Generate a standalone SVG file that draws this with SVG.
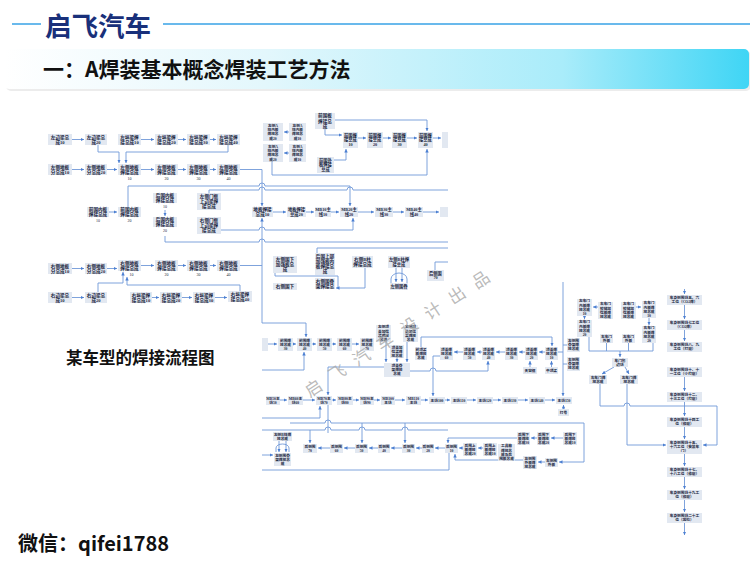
<svg xmlns="http://www.w3.org/2000/svg" width="750" height="563" viewBox="0 0 750 563">
<defs>
<linearGradient id="bg" x1="0" y1="0" x2="1" y2="0">
<stop offset="0" stop-color="#ffffff"/><stop offset="0.35" stop-color="#e3f7fc"/><stop offset="0.75" stop-color="#a9ecfa"/><stop offset="1" stop-color="#3fd5f5"/>
</linearGradient>
<marker id="ar" viewBox="0 0 4 4" refX="4" refY="2" markerWidth="3.5" markerHeight="3.5" markerUnits="userSpaceOnUse" orient="auto"><path d="M0,0 L4,2 L0,4 z" fill="#4b7fd2"/></marker>
<clipPath id="clip1"><path d="M0,100 H448 V290 H258 V312 H0 Z"/></clipPath>
</defs>
<style>
.b{fill:#e2e8f1}
.t{font-family:"Liberation Serif","Noto Sans CJK SC",serif;font-weight:bold;fill:#1b2640;text-anchor:middle;font-size:4.6px}
.u{font-size:4.25px}
.s{font-size:3.7px}
.n{font-family:"Liberation Serif",serif;font-size:4px;fill:#1b2640;text-anchor:middle}
.c{fill:none;stroke:#7099d8;stroke-width:0.9}
.a{marker-end:url(#ar)}
.h{font-family:"Noto Sans CJK SC","Noto Sans",sans-serif;font-weight:bold}
</style>
<rect width="750" height="563" fill="#ffffff"/>

<!-- header -->
<g id="header">
<line x1="12" y1="24" x2="41" y2="24" stroke="#69b9ec" stroke-width="2"/>
<line x1="163" y1="24" x2="750" y2="24" stroke="#69b9ec" stroke-width="2"/>
<text class="h" x="45" y="35.5" font-size="26.5" fill="#19307a">启飞汽车</text>
<rect x="6" y="51" width="745" height="40" rx="5" fill="#ececec"/>
<rect x="4" y="49" width="745" height="40" rx="5" fill="url(#bg)"/>
<text class="h" x="43" y="76.5" font-size="21" fill="#111111">一：A焊装基本概念焊装工艺方法</text>
</g>

<!-- image 1 -->
<g clip-path="url(#clip1)">
<g id="connectors1">
<path class="c a" d="M72,139.5 H84"/>
<path class="c a" d="M141,139.5 H154"/>
<path class="c a" d="M178,139.5 H186"/>
<path class="c a" d="M210,139.5 H216"/>
<path class="c a" d="M72,169.5 H84"/>
<path class="c a" d="M107,169.5 H117"/>
<path class="c a" d="M141,169.5 H154"/>
<path class="c a" d="M178,169.5 H186"/>
<path class="c a" d="M210,169.5 H216"/>
<path class="c a" d="M98,145 V152 H119 V163"/>
<path class="c a" d="M228,145 V152 H126 V163"/>
<path class="c a" d="M240,169.5 H262 V206"/>
<path class="c a" d="M262,290 V218"/>
<path class="c a" d="M109,212 H117"/>
<path class="c a" d="M165,210 V216"/>
<path class="c a" d="M128,207 V186 H259 a3,3 0 0 1 6,0 H350 V206"/>
<path class="c" d="M209,193 V190 H259 a3,3 0 0 1 6,0 H347 a3,3 0 0 1 6,0 H448"/>
<path class="c a" d="M221,230 H259 a3,3 0 0 1 6,0 H353 V218"/>
<path class="c" d="M165,236 V242 H259 a3,3 0 0 1 6,0 H448"/>
<path class="c a" d="M273,212 H286"/>
<path class="c a" d="M306,212 H314"/>
<path class="c a" d="M331,212 H339"/>
<path class="c a" d="M358,212 H374"/>
<path class="c a" d="M393,212 H404"/>
<path class="c a" d="M423,212 H439"/>
<path class="c a" d="M289,132 H284"/>
<path class="c a" d="M289,153 H284"/>
<path class="c a" d="M272,162 V175 H427 V149"/>
<path class="c a" d="M335,120 H427 V131"/>
<path class="c a" d="M325,129 V135 H342"/>
<path class="c a" d="M334,160 H346 V149"/>
<path class="c a" d="M358,138 H366"/>
<path class="c a" d="M383,138 H391"/>
<path class="c a" d="M407,138 H417"/>
<path class="c a" d="M433,138 H441"/>
<path class="c" d="M317,253 V248 H448"/>
<path class="c" d="M275,273 V276 H338 V288"/>
<path class="c a" d="M365,268 V288 H336"/>
<path class="c a" d="M396,268 V282"/>
<path class="c a" d="M402,268 V282"/>
<path class="c" d="M391,283 V279 a8,6 0 0 1 16,0 V283"/>
<path class="c" d="M435,270 V262 H448"/>
<path class="c a" d="M72,268.5 H84"/>
<path class="c a" d="M107,268.5 H117"/>
<path class="c a" d="M141,265.5 H154"/>
<path class="c a" d="M178,265.5 H186"/>
<path class="c a" d="M210,265.5 H216"/>
<path class="c" d="M240,265.5 H262"/>
<path class="c a" d="M72,297.5 H84"/>
<path class="c a" d="M152,297.5 H159"/>
<path class="c a" d="M182,297.5 H192"/>
<path class="c a" d="M215,297.5 H227"/>
<path class="c a" d="M98,292 V283 H123 V272"/>
<path class="c a" d="M240,291 V285 H127 V277"/>
</g>

<g id="n1"><rect class="b" x="48" y="134" width="24" height="11"/><text class="t" x="60" y="138.5">左边梁总<tspan x="60" dy="5.2">成10</tspan></text></g>
<g id="n2"><rect class="b" x="85" y="134" width="22" height="11"/><text class="t" x="96" y="138.5">左边梁总<tspan x="96" dy="5.2">成20</tspan></text></g>
<g id="n3"><rect class="b" x="118" y="134" width="23" height="11"/><text class="t" x="129.5" y="138.5">左纵梁焊<tspan x="129.5" dy="5.2">接总成10</tspan></text></g>
<g id="n4"><rect class="b" x="155" y="134" width="23" height="11"/><text class="t" x="166.5" y="138.5">左纵梁焊<tspan x="166.5" dy="5.2">接总成20</tspan></text></g>
<g id="n5"><rect class="b" x="187" y="134" width="23" height="11"/><text class="t" x="198.5" y="138.5">左纵梁焊<tspan x="198.5" dy="5.2">接总成30</tspan></text></g>
<g id="n6"><rect class="b" x="217" y="134" width="23" height="11"/><text class="t" x="228.5" y="138.5">左纵梁焊<tspan x="228.5" dy="5.2">接总成40</tspan></text></g>

<g id="n7"><rect class="b" x="48" y="164" width="24" height="11"/><text class="t" x="60" y="168.5">左侧地板<tspan x="60" dy="5.2">分总成10</tspan></text></g>
<g id="n8"><rect class="b" x="85" y="164" width="22" height="11"/><text class="t" x="96" y="168.5">左侧地板<tspan x="96" dy="5.2">分总成20</tspan></text></g>
<g id="n9"><rect class="b" x="118" y="164" width="23" height="11"/><text class="t" x="129.5" y="168.5">左侧地板<tspan x="129.5" dy="5.2">焊接总成</tspan></text><text class="n" x="129.5" y="180">10</text></g>
<g id="n10"><rect class="b" x="155" y="164" width="23" height="11"/><text class="t" x="166.5" y="168.5">左侧地板<tspan x="166.5" dy="5.2">焊接总成</tspan></text><text class="n" x="166.5" y="180">20</text></g>
<g id="n11"><rect class="b" x="187" y="164" width="23" height="11"/><text class="t" x="198.5" y="168.5">左侧地板<tspan x="198.5" dy="5.2">焊接总成</tspan></text><text class="n" x="198.5" y="180">30</text></g>
<g id="n12"><rect class="b" x="217" y="164" width="23" height="11"/><text class="t" x="228.5" y="168.5">左侧地板<tspan x="228.5" dy="5.2">焊接总成</tspan></text><text class="n" x="228.5" y="180">40</text></g>

<g id="n13"><rect class="b" x="153" y="193" width="24" height="10"/><text class="t" x="165" y="197">后围内板<tspan x="165" dy="5.2">焊接总成</tspan></text><text class="n" x="165" y="208">10</text></g>
<g id="n14"><rect class="b" x="153" y="217" width="24" height="10"/><text class="t" x="165" y="221">后围内板<tspan x="165" dy="5.2">焊接总成</tspan></text><text class="n" x="165" y="231.5">20</text></g>
<g id="n15"><rect class="b" x="87" y="207" width="22" height="10"/><text class="t" x="98" y="211">前围内板<tspan x="98" dy="5.2">焊接总成</tspan></text><text class="n" x="98" y="221.5">10</text></g>
<g id="n16"><rect class="b" x="118" y="207" width="23" height="10"/><text class="t" x="129.5" y="211">前围内板<tspan x="129.5" dy="5.2">焊接总成</tspan></text><text class="n" x="129.5" y="221.5">20</text></g>
<g id="n17"><rect class="b" x="197" y="193" width="24" height="17"/><text class="t" x="209" y="197.9">左侧门框<tspan x="209" dy="5.2">上边梁焊</tspan><tspan x="209" dy="5.2">接总成</tspan></text></g>
<g id="n18"><rect class="b" x="197" y="217" width="24" height="17"/><text class="t" x="209" y="221.9">右侧门框<tspan x="209" dy="5.2">上边梁焊</tspan><tspan x="209" dy="5.2">接总成</tspan></text></g>

<g id="n19"><rect class="b" x="252" y="207" width="21" height="10"/><text class="t" x="262.5" y="211">地板焊接<tspan x="262.5" dy="5.2">总成10</tspan></text></g>
<g id="n20"><rect class="b" x="287" y="207" width="19" height="10"/><text class="t u" x="296.5" y="211">地板焊接<tspan x="296.5" dy="4.8">总成20</tspan></text></g>
<g id="n21"><rect class="b" x="315" y="207" width="16" height="10"/><text class="t u" x="323" y="211">MB10主<tspan x="323" dy="4.8">线10</tspan></text></g>
<g id="n22"><rect class="b" x="340" y="207" width="18" height="10"/><text class="t u" x="349" y="211">MB20主<tspan x="349" dy="4.8">线20</tspan></text></g>
<g id="n23"><rect class="b" x="375" y="207" width="18" height="10"/><text class="t u" x="384" y="211">MB30主<tspan x="384" dy="4.8">线30</tspan></text></g>
<g id="n24"><rect class="b" x="405" y="207" width="18" height="10"/><text class="t u" x="414" y="211">MB40主<tspan x="414" dy="4.8">线40</tspan></text></g>
<g id="n25"><rect class="b" x="440" y="207" width="10" height="10"/></g>

<g id="n26"><rect class="b" x="263" y="123" width="20" height="18"/><text class="t s" x="273" y="126.9">左侧A<tspan x="273" dy="4.2">柱内板</tspan><tspan x="273" dy="4.2">焊接总</tspan><tspan x="273" dy="4.2">成20</tspan></text></g>
<g id="n27"><rect class="b" x="263" y="144" width="20" height="18"/><text class="t s" x="273" y="147.9">右侧A<tspan x="273" dy="4.2">柱内板</tspan><tspan x="273" dy="4.2">焊接总</tspan><tspan x="273" dy="4.2">成20</tspan></text></g>
<g id="n28"><rect class="b" x="289" y="123" width="17" height="18"/><text class="t s" x="297.5" y="126.9">左侧A<tspan x="297.5" dy="4.2">柱内板</tspan><tspan x="297.5" dy="4.2">焊接总</tspan><tspan x="297.5" dy="4.2">成10</tspan></text></g>
<g id="n29"><rect class="b" x="289" y="144" width="17" height="18"/><text class="t s" x="297.5" y="147.9">右侧A<tspan x="297.5" dy="4.2">柱内板</tspan><tspan x="297.5" dy="4.2">焊接总</tspan><tspan x="297.5" dy="4.2">成10</tspan></text></g>
<g id="n30"><rect class="b" x="315" y="113" width="20" height="16"/><text class="t" x="325" y="117.4">前围板<tspan x="325" dy="5.2">焊接总</tspan><tspan x="325" dy="5.2">成</tspan></text></g>
<g id="n31"><rect class="b" x="317" y="157" width="17" height="16"/><text class="t u" x="325.5" y="161.6">前围外<tspan x="325.5" dy="4.8">板焊接</tspan><tspan x="325.5" dy="4.8">总成</tspan></text></g>
<g id="n32"><rect class="b" x="343" y="132" width="15" height="16"/><text class="t u" x="350.5" y="136.6">前围焊<tspan x="350.5" dy="4.8">接总成</tspan><tspan x="350.5" dy="4.8">10</tspan></text></g>
<g id="n33"><rect class="b" x="367" y="132" width="16" height="16"/><text class="t u" x="375" y="136.6">前围焊<tspan x="375" dy="4.8">接总成</tspan><tspan x="375" dy="4.8">20</tspan></text></g>
<g id="n34"><rect class="b" x="392" y="132" width="15" height="16"/><text class="t u" x="399.5" y="136.6">前围焊<tspan x="399.5" dy="4.8">接总成</tspan><tspan x="399.5" dy="4.8">30</tspan></text></g>
<g id="n35"><rect class="b" x="418" y="132" width="15" height="16"/><text class="t u" x="425.5" y="136.6">前围焊<tspan x="425.5" dy="4.8">接总成</tspan><tspan x="425.5" dy="4.8">40</tspan></text></g>
<g id="n36"><rect class="b" x="442" y="132" width="8" height="16"/></g>

<g id="n37"><rect class="b" x="273" y="256" width="24" height="17"/><text class="t" x="285" y="260.9">左侧围下<tspan x="285" dy="5.2">加强板总</tspan><tspan x="285" dy="5.2">成</tspan></text></g>
<g id="n38"><rect class="b" x="273" y="283" width="24" height="10"/><text class="t" x="285" y="288">右侧围下</text></g>
<g id="n39"><rect class="b" x="315" y="253" width="20" height="22"/><text class="t" x="325" y="257.8">后围上部<tspan x="325" dy="5.2">加强板内</tspan><tspan x="325" dy="5.2">板焊接总</tspan><tspan x="325" dy="5.2">成</tspan></text></g>
<g id="n40"><rect class="b" x="315" y="278" width="20" height="11"/><text class="t" x="325" y="282.5">右侧围骨<tspan x="325" dy="5.2">架焊接总</tspan></text></g>
<g id="n41"><rect class="b" x="352" y="256" width="21" height="12"/><text class="t" x="362.5" y="261">右侧B柱<tspan x="362.5" dy="5.2">焊接总成</tspan></text></g>
<g id="n42"><rect class="b" x="388" y="256" width="22" height="12"/><text class="t u" x="399" y="261">左侧B柱焊<tspan x="399" dy="4.8">接总成</tspan></text></g>
<g id="n43"><rect class="b" x="390" y="283" width="18" height="10"/><text class="t u" x="399" y="288">左侧围骨</text></g>
<g id="n44"><rect class="b" x="427" y="270" width="17" height="11"/><text class="t u" x="435.5" y="274.5">后侧围<tspan x="435.5" dy="4.8">70</tspan></text></g>

<g id="n45"><rect class="b" x="48" y="263" width="24" height="11"/><text class="t" x="60" y="267.5">右侧地板<tspan x="60" dy="5.2">分总成10</tspan></text></g>
<g id="n46"><rect class="b" x="85" y="263" width="22" height="11"/><text class="t" x="96" y="267.5">右侧地板<tspan x="96" dy="5.2">分总成20</tspan></text></g>
<g id="n47"><rect class="b" x="118" y="260" width="23" height="11"/><text class="t" x="129.5" y="264.5">右侧地板<tspan x="129.5" dy="5.2">焊接总成</tspan></text><text class="n" x="131.5" y="275.5">10</text></g>
<g id="n48"><rect class="b" x="155" y="260" width="23" height="11"/><text class="t" x="166.5" y="264.5">右侧地板<tspan x="166.5" dy="5.2">焊接总成</tspan></text><text class="n" x="166.5" y="275.5">20</text></g>
<g id="n49"><rect class="b" x="187" y="260" width="23" height="11"/><text class="t" x="198.5" y="264.5">右侧地板<tspan x="198.5" dy="5.2">焊接总成</tspan></text><text class="n" x="198.5" y="275.5">30</text></g>
<g id="n50"><rect class="b" x="217" y="260" width="23" height="11"/><text class="t" x="228.5" y="264.5">右侧地板<tspan x="228.5" dy="5.2">焊接总成</tspan></text><text class="n" x="228.5" y="275.5">40</text></g>
<g id="n51"><rect class="b" x="48" y="292" width="24" height="11"/><text class="t" x="60" y="296.5">右边梁总<tspan x="60" dy="5.2">成10</tspan></text></g>
<g id="n52"><rect class="b" x="85" y="292" width="22" height="11"/><text class="t" x="96" y="296.5">右边梁总<tspan x="96" dy="5.2">成20</tspan></text></g>
<g id="n53"><rect class="b" x="130" y="292" width="22" height="11"/><text class="t" x="141" y="296.5">右纵梁焊<tspan x="141" dy="5.2">接总成10</tspan></text></g>
<g id="n54"><rect class="b" x="160" y="292" width="22" height="11"/><text class="t" x="171" y="296.5">右纵梁焊<tspan x="171" dy="5.2">接总成20</tspan></text></g>
<g id="n55"><rect class="b" x="193" y="292" width="22" height="11"/><text class="t" x="204" y="296.5">右纵梁焊<tspan x="204" dy="5.2">接总成30</tspan></text></g>
<g id="n56"><rect class="b" x="228" y="291" width="24" height="11"/><text class="t" x="240" y="295.5">右纵梁焊<tspan x="240" dy="5.2">接总成40</tspan></text></g>
</g>

<!-- image 2 -->
<g id="connectors2">
<path class="c a" d="M262,290 V323 H306 V337"/>
<path class="c a" d="M262,370 H304 V352"/>
<path class="c a" d="M268,344 H277"/>
<path class="c a" d="M293,344 H296"/>
<path class="c a" d="M312,344 H316"/>
<path class="c a" d="M332,344 H336"/>
<path class="c a" d="M352,344 H359"/>
<path class="c a" d="M386,342 V362"/>
<path class="c a" d="M407,342 V362"/>
<path class="c a" d="M397,358 V362"/>
<path class="c a" d="M384,367 H328 V395"/>
<path class="c a" d="M410,371 H430 a3,3 0 0 1 6,0 H488 V361"/>
<path class="c a" d="M545,352 H539"/>
<path class="c a" d="M525,352 H519"/>
<path class="c a" d="M505,352 H496"/>
<path class="c a" d="M482,352 H477"/>
<path class="c a" d="M463,352 H454"/>
<path class="c a" d="M530,367 V361"/>
<path class="c a" d="M551.5,367 V361"/>
<path class="c a" d="M421,347 V337 H552 V346"/>
<path class="c a" d="M440,356 H433 V396"/>
<path class="c" d="M558,352 H563"/>
<path class="c" d="M567,345 H563"/>
<path class="c" d="M567,364 H563"/>
<path class="c a" d="M563,282 V396"/>
<path class="c a" d="M280,400 H287"/>
<path class="c a" d="M303,400 H315"/>
<path class="c a" d="M332,400 H336"/>
<path class="c a" d="M353,400 H359"/>
<path class="c a" d="M374,400 H380"/>
<path class="c a" d="M395,400 H405"/>
<path class="c a" d="M421,400 H428"/>
<path class="c a" d="M445,400 H450"/>
<path class="c a" d="M467,400 H476"/>
<path class="c a" d="M493,400 H501"/>
<path class="c a" d="M518,400 H528"/>
<path class="c a" d="M545,400 H555"/>
<path class="c a" d="M563.5,409 V405"/>
<path class="c a" d="M262,418 H320 V406"/>
<path class="c" d="M328,405 V433"/>
<path class="c a" d="M290,423 H325 a3,3 0 0 1 6,0 H584 V462 H559"/>
<path class="c" d="M262,430 H325 a3,3 0 0 1 6,0 H359 a3,3 0 0 1 6,0 H402 a3,3 0 0 1 6,0 H448"/>
<path class="c a" d="M310,430 V443"/>
<path class="c a" d="M362,423 V443"/>
<path class="c a" d="M405,423 V443"/>
<path class="c a" d="M330,448 H318"/>
<path class="c a" d="M355,448 H344"/>
<path class="c a" d="M378,448 H369"/>
<path class="c a" d="M402,448 H391"/>
<path class="c a" d="M422,448 H416"/>
<path class="c a" d="M445,448 H435"/>
<path class="c a" d="M483,448 H478"/>
<path class="c a" d="M463,448 H459"/>
<path class="c a" d="M563,438 H551"/>
<path class="c a" d="M537,438 H531"/>
<path class="c a" d="M517,438 H448 V443"/>
<path class="c a" d="M545,462 H538"/>
<path class="c a" d="M523,460 H455 V454"/>
<path class="c" d="M449,453 V470 H262"/>
<path class="c a" d="M279,441 V452"/>
<path class="c a" d="M286,441 V452"/>
<path class="c" d="M276,452 V448 a6.5,4 0 0 1 13,0 V452"/>
<path class="c a" d="M262,455 H273"/>
<path class="c a" d="M684.5,289 V294"/>
<path class="c a" d="M684.5,305 V319"/>
<path class="c a" d="M684.5,330 V341"/>
<path class="c a" d="M684.5,377 V391"/>
<path class="c a" d="M684.5,402 V416"/>
<path class="c a" d="M684.5,427 V439"/>
<path class="c a" d="M684.5,454 V466"/>
<path class="c a" d="M684.5,477 V489"/>
<path class="c a" d="M684.5,500 V512"/>
<path class="c a" d="M684.5,523 V535"/>
<path class="c a" d="M584.5,316 V319"/>
<path class="c a" d="M598,307 H593"/>
<path class="c a" d="M636,307 H641"/>
<path class="c a" d="M649,318 V325"/>
<path class="c" d="M589,337 V351 H653 V343"/>
<path class="c" d="M606.5,343 V351"/>
<path class="c" d="M628.5,343 V351"/>
<path class="c a" d="M620,351 V357"/>
<path class="c a" d="M614,367 L602,374"/>
<path class="c a" d="M625,367 L629,374"/>
<path class="c a" d="M600,384 V406 H624 a3,3 0 0 1 6,0 H717 V445 H703"/>
<path class="c a" d="M627,384 V445 H666"/>
</g>

<g id="a0"><rect class="b" x="262" y="338" width="6" height="13"/></g>
<g id="a1"><rect class="b" x="278" y="338" width="15" height="13"/><text class="t s" x="285.5" y="341.5">前围焊<tspan x="285.5" dy="4.2">接总成</tspan><tspan x="285.5" dy="4.2">30</tspan></text></g>
<g id="a2"><rect class="b" x="297" y="338" width="15" height="13"/><text class="t s" x="304.5" y="341.5">前围焊<tspan x="304.5" dy="4.2">接总成</tspan><tspan x="304.5" dy="4.2">40</tspan></text></g>
<g id="a3"><rect class="b" x="317" y="338" width="15" height="13"/><text class="t s" x="324.5" y="341.5">前围焊<tspan x="324.5" dy="4.2">接总成</tspan><tspan x="324.5" dy="4.2">50</tspan></text></g>
<g id="a4"><rect class="b" x="337" y="338" width="15" height="13"/><text class="t s" x="344.5" y="341.5">前围焊<tspan x="344.5" dy="4.2">接总成</tspan><tspan x="344.5" dy="4.2">60</tspan></text></g>
<g id="a5"><rect class="b" x="360" y="338" width="14" height="13"/><text class="t s" x="367" y="341.5">前围焊<tspan x="367" dy="4.2">接总成</tspan><tspan x="367" dy="4.2">70</tspan></text></g>
<g id="a6"><rect class="b" x="376" y="325" width="15" height="17"/><text class="t s" x="383.5" y="328.4">左侧顶<tspan x="383.5" dy="4.2">盖加强</tspan><tspan x="383.5" dy="4.2">梁焊接</tspan><tspan x="383.5" dy="4.2">总成</tspan></text></g>
<g id="a7"><rect class="b" x="403" y="325" width="15" height="17"/><text class="t s" x="410.5" y="328.4">右侧顶<tspan x="410.5" dy="4.2">盖加强</tspan><tspan x="410.5" dy="4.2">梁焊接</tspan><tspan x="410.5" dy="4.2">总成</tspan></text></g>
<g id="a8"><rect class="b" x="390" y="345" width="14" height="13"/><text class="t s" x="397" y="348.5">顶盖加<tspan x="397" dy="4.2">强梁焊</tspan><tspan x="397" dy="4.2">接总成</tspan></text></g>
<g id="a9"><rect class="b" x="384" y="363" width="26" height="14"/><text class="t s" x="397" y="367">顶盖骨<tspan x="397" dy="4.2">架焊接</tspan><tspan x="397" dy="4.2">总成</tspan></text></g>

<g id="b0"><rect class="b" x="415" y="347" width="12" height="13"/><text class="t s" x="421" y="350.5">前顶梁<tspan x="421" dy="4.2">板焊接</tspan><tspan x="421" dy="4.2">总成</tspan></text></g>
<g id="b1"><rect class="b" x="440" y="347" width="13" height="13"/><text class="t s" x="446.5" y="350.5">顶盖焊<tspan x="446.5" dy="4.2">接总成</tspan><tspan x="446.5" dy="4.2">60</tspan></text></g>
<g id="b2"><rect class="b" x="463" y="347" width="13" height="13"/><text class="t s" x="469.5" y="350.5">顶盖焊<tspan x="469.5" dy="4.2">接总成</tspan><tspan x="469.5" dy="4.2">50</tspan></text></g>
<g id="b3"><rect class="b" x="482" y="347" width="13" height="13"/><text class="t s" x="488.5" y="350.5">顶盖焊<tspan x="488.5" dy="4.2">接总成</tspan><tspan x="488.5" dy="4.2">40</tspan></text></g>
<g id="b4"><rect class="b" x="505" y="347" width="13" height="13"/><text class="t s" x="511.5" y="350.5">顶盖焊<tspan x="511.5" dy="4.2">接总成</tspan><tspan x="511.5" dy="4.2">30</tspan></text></g>
<g id="b5"><rect class="b" x="525" y="347" width="13" height="13"/><text class="t s" x="531.5" y="350.5">顶盖焊<tspan x="531.5" dy="4.2">接总成</tspan><tspan x="531.5" dy="4.2">20</tspan></text></g>
<g id="b6"><rect class="b" x="545" y="347" width="13" height="13"/><text class="t s" x="551.5" y="350.5">顶盖焊<tspan x="551.5" dy="4.2">接总成</tspan><tspan x="551.5" dy="4.2">10</tspan></text></g>
<g id="b7"><rect class="b" x="523" y="367" width="14" height="7"/><text class="t s" x="530" y="371.7">天窗框</text></g>
<g id="b8"><rect class="b" x="545" y="367" width="13" height="7"/><text class="t s" x="551.5" y="371.7">中顶梁</text></g>
<g id="c1"><rect class="b" x="567" y="338" width="13" height="14"/><text class="t s" x="573.5" y="342">左侧围<tspan x="573.5" dy="4.2">骨架焊</tspan><tspan x="573.5" dy="4.2">接总成</tspan></text></g>
<g id="c2"><rect class="b" x="567" y="357" width="13" height="14"/><text class="t s" x="573.5" y="361">右侧围<tspan x="573.5" dy="4.2">骨架焊</tspan><tspan x="573.5" dy="4.2">接总成</tspan></text></g>

<g id="m1"><rect class="b" x="266" y="396" width="14" height="9"/><text class="t s" x="273" y="399.6">MB50主<tspan x="273" dy="4.2">线50</tspan></text></g>
<g id="m2"><rect class="b" x="288" y="396" width="15" height="9"/><text class="t s" x="295.5" y="399.6">MB60主<tspan x="295.5" dy="4.2">线60</tspan></text></g>
<g id="m3"><rect class="b" x="316" y="396" width="16" height="9"/><text class="t s" x="324" y="399.6">MB70主<tspan x="324" dy="4.2">线70</tspan></text></g>
<g id="m4"><rect class="b" x="337" y="396" width="16" height="9"/><text class="t s" x="345" y="399.6">MB80主<tspan x="345" dy="4.2">线80</tspan></text></g>
<g id="m5"><rect class="b" x="360" y="396" width="14" height="9"/><text class="t s" x="367" y="399.6">MB90主<tspan x="367" dy="4.2">线90</tspan></text></g>
<g id="m6"><rect class="b" x="381" y="396" width="14" height="9"/><text class="t s" x="388" y="399.6">MB100<tspan x="388" dy="4.2">主线</tspan></text></g>
<g id="m7"><rect class="b" x="406" y="396" width="15" height="9"/><text class="t s" x="413.5" y="399.6">MB110<tspan x="413.5" dy="4.2">主线</tspan></text></g>
<g id="p1"><rect class="b" x="429" y="397" width="16" height="7"/><text class="t s" x="437" y="401.7">主线100</text></g>
<g id="p2"><rect class="b" x="451" y="397" width="16" height="7"/><text class="t s" x="459" y="401.7">主线110</text></g>
<g id="p3"><rect class="b" x="477" y="397" width="16" height="7"/><text class="t s" x="485" y="401.7">主线120</text></g>
<g id="p4"><rect class="b" x="502" y="397" width="16" height="7"/><text class="t s" x="510" y="401.7">主线130</text></g>
<g id="p5"><rect class="b" x="529" y="397" width="16" height="7"/><text class="t s" x="537" y="401.7">主线140</text></g>
<g id="p6"><rect class="b" x="556" y="397" width="16" height="7"/><text class="t s" x="564" y="401.7">主线150</text></g>
<g id="p7"><rect class="b" x="558" y="409" width="11" height="7"/><text class="t s" x="563.5" y="413.7">打号</text></g>

<g id="d1"><rect class="b" x="303" y="444" width="14" height="9"/><text class="t s" x="310" y="447.6">后侧围<tspan x="310" dy="4.2">70</tspan></text></g>
<g id="d2"><rect class="b" x="330" y="444" width="13" height="9"/><text class="t s" x="336.5" y="447.6">后侧围<tspan x="336.5" dy="4.2">60</tspan></text></g>
<g id="d3"><rect class="b" x="355" y="444" width="13" height="9"/><text class="t s" x="361.5" y="447.6">后侧围<tspan x="361.5" dy="4.2">50</tspan></text></g>
<g id="d4"><rect class="b" x="378" y="444" width="12" height="9"/><text class="t s" x="384" y="447.6">后侧围<tspan x="384" dy="4.2">40</tspan></text></g>
<g id="d5"><rect class="b" x="402" y="444" width="13" height="9"/><text class="t s" x="408.5" y="447.6">后侧围<tspan x="408.5" dy="4.2">30</tspan></text></g>
<g id="d6"><rect class="b" x="422" y="444" width="12" height="9"/><text class="t s" x="428" y="447.6">后侧围<tspan x="428" dy="4.2">20</tspan></text></g>
<g id="d7"><rect class="b" x="445" y="444" width="13" height="9"/><text class="t s" x="451.5" y="447.6">后侧围<tspan x="451.5" dy="4.2">10</tspan></text></g>
<g id="e1"><rect class="b" x="463" y="443" width="14" height="13"/><text class="t s" x="470" y="446.5">后围上<tspan x="470" dy="4.2">板焊接</tspan><tspan x="470" dy="4.2">总成20</tspan></text></g>
<g id="e2"><rect class="b" x="483" y="443" width="14" height="13"/><text class="t s" x="490" y="446.5">后围上<tspan x="490" dy="4.2">板焊接</tspan><tspan x="490" dy="4.2">总成10</tspan></text></g>
<g id="e3"><rect class="b" x="498" y="444" width="17" height="17"/><text class="t s" x="506.5" y="447.4">工具箱<tspan x="506.5" dy="4.2">焊接总</tspan><tspan x="506.5" dy="4.2">成及后</tspan><tspan x="506.5" dy="4.2">围板总成</tspan></text></g>
<g id="f1"><rect class="b" x="517" y="432" width="13" height="13"/><text class="t s" x="523.5" y="435.5">后围下<tspan x="523.5" dy="4.2">板焊接</tspan><tspan x="523.5" dy="4.2">总成30</tspan></text></g>
<g id="f2"><rect class="b" x="537" y="432" width="13" height="13"/><text class="t s" x="543.5" y="435.5">后围下<tspan x="543.5" dy="4.2">板焊接</tspan><tspan x="543.5" dy="4.2">总成20</tspan></text></g>
<g id="f3"><rect class="b" x="563" y="432" width="14" height="13"/><text class="t s" x="570" y="435.5">后围下<tspan x="570" dy="4.2">板焊接</tspan><tspan x="570" dy="4.2">总成10</tspan></text></g>
<g id="g1"><rect class="b" x="523" y="456" width="14" height="13"/><text class="t s" x="530" y="459.5">左侧围<tspan x="530" dy="4.2">外板焊</tspan><tspan x="530" dy="4.2">接总成</tspan></text></g>
<g id="g2"><rect class="b" x="545" y="458" width="13" height="9"/><text class="t s" x="551.5" y="461.6">右侧围<tspan x="551.5" dy="4.2">外板</tspan></text></g>
<g id="h1"><rect class="b" x="273" y="432" width="19" height="9"/><text class="t s" x="282.5" y="435.6">左侧B柱焊<tspan x="282.5" dy="4.2">接总成</tspan></text></g>
<g id="h2"><rect class="b" x="274" y="453" width="17" height="13"/><text class="t s" x="282.5" y="456.5">左侧围骨<tspan x="282.5" dy="4.2">架焊接总</tspan><tspan x="282.5" dy="4.2">成</tspan></text></g>

<g id="k1"><rect class="b" x="577" y="299" width="15" height="17"/><text class="t s" x="584.5" y="302.4">左车门<tspan x="584.5" dy="4.2">内板焊</tspan><tspan x="584.5" dy="4.2">接总成</tspan><tspan x="584.5" dy="4.2">10</tspan></text></g>
<g id="k2"><rect class="b" x="577" y="320" width="15" height="17"/><text class="t s" x="584.5" y="323.4">左车门<tspan x="584.5" dy="4.2">内板焊</tspan><tspan x="584.5" dy="4.2">接总成</tspan><tspan x="584.5" dy="4.2">20</tspan></text></g>
<g id="k3"><rect class="b" x="598" y="302" width="15" height="17"/><text class="t s" x="605.5" y="305.4">右车门<tspan x="605.5" dy="4.2">铰链加</tspan><tspan x="605.5" dy="4.2">强板焊</tspan><tspan x="605.5" dy="4.2">接总成</tspan></text></g>
<g id="k4"><rect class="b" x="621" y="302" width="15" height="17"/><text class="t s" x="628.5" y="305.4">左车门<tspan x="628.5" dy="4.2">铰链加</tspan><tspan x="628.5" dy="4.2">强板焊</tspan><tspan x="628.5" dy="4.2">接总成</tspan></text></g>
<g id="k5"><rect class="b" x="642" y="301" width="14" height="17"/><text class="t s" x="649" y="304.4">右车门<tspan x="649" dy="4.2">内板焊</tspan><tspan x="649" dy="4.2">接总成</tspan><tspan x="649" dy="4.2">10</tspan></text></g>
<g id="k6"><rect class="b" x="642" y="326" width="14" height="17"/><text class="t s" x="649" y="329.4">右车门<tspan x="649" dy="4.2">内板焊</tspan><tspan x="649" dy="4.2">接总成</tspan><tspan x="649" dy="4.2">20</tspan></text></g>
<g id="k7"><rect class="b" x="600" y="334" width="13" height="9"/><text class="t s" x="606.5" y="337.6">右车门<tspan x="606.5" dy="4.2">外板</tspan></text></g>
<g id="k8"><rect class="b" x="622" y="334" width="13" height="9"/><text class="t s" x="628.5" y="337.6">左车门<tspan x="628.5" dy="4.2">外板</tspan></text></g>
<g id="k9"><rect class="b" x="612" y="358" width="16" height="9"/><text class="t s" x="620" y="361.6">车门包<tspan x="620" dy="4.2">边线</tspan></text></g>
<g id="k10"><rect class="b" x="589" y="375" width="18" height="9"/><text class="t s" x="598" y="378.6">右车门焊<tspan x="598" dy="4.2">接总成</tspan></text></g>
<g id="k11"><rect class="b" x="620" y="375" width="18" height="9"/><text class="t s" x="629" y="378.6">左车门焊<tspan x="629" dy="4.2">接总成</tspan></text></g>

<g id="r1"><rect class="b" x="667" y="295" width="35" height="10"/><text class="t s" x="684.5" y="299.1">车身侧围线五、六<tspan x="684.5" dy="4.2">工位（CO2焊）</tspan></text></g>
<g id="r2"><rect class="b" x="667" y="320" width="35" height="10"/><text class="t s" x="684.5" y="324.1">车身侧围线七工位<tspan x="684.5" dy="4.2">（CO2焊）</tspan></text></g>
<g id="r3"><rect class="b" x="667" y="342" width="35" height="10"/><text class="t s" x="684.5" y="346.1">车身侧围线八、九<tspan x="684.5" dy="4.2">工位（打磨）</tspan></text></g>
<g id="r4"><rect class="b" x="667" y="367" width="35" height="10"/><text class="t s" x="684.5" y="371.1">车身侧围线十、十<tspan x="684.5" dy="4.2">一工位（小打磨）</tspan></text></g>
<g id="r5"><rect class="b" x="667" y="392" width="35" height="10"/><text class="t s" x="684.5" y="396.1">车身侧围线十二、<tspan x="684.5" dy="4.2">十三工位（打磨）</tspan></text></g>
<g id="r6"><rect class="b" x="667" y="417" width="35" height="10"/><text class="t s" x="684.5" y="421.1">车身侧围线十四工<tspan x="684.5" dy="4.2">位（修磨）</tspan></text></g>
<g id="r7"><rect class="b" x="667" y="440" width="35" height="14"/><text class="t s" x="684.5" y="444">车身侧围线十五、<tspan x="684.5" dy="4.2">十六工位（安装车</tspan><tspan x="684.5" dy="4.2">门）</tspan></text></g>
<g id="r8"><rect class="b" x="667" y="467" width="35" height="10"/><text class="t s" x="684.5" y="471.1">车身侧围线十七、<tspan x="684.5" dy="4.2">十八工位（修磨）</tspan></text></g>
<g id="r9"><rect class="b" x="667" y="490" width="35" height="10"/><text class="t s" x="684.5" y="494.1">车身侧围线十九工<tspan x="684.5" dy="4.2">位（修磨）</tspan></text></g>
<g id="r10"><rect class="b" x="667" y="513" width="35" height="10"/><text class="t s" x="684.5" y="517.1">车身侧围线二十工<tspan x="684.5" dy="4.2">位（报验）</tspan></text></g>

<!-- captions -->
<text class="h" x="66" y="364" font-size="16.5" fill="#111111">某车型的焊接流程图</text>
<text class="h" x="18" y="551" font-size="20" fill="#111111">微信：qifei1788</text>

<!-- watermark -->
<text x="402" y="337" transform="rotate(-33 402 331)" font-family="Noto Sans CJK SC, sans-serif" font-size="17" letter-spacing="11.5" text-anchor="middle" fill="#a9a9a9" fill-opacity="0.8">启飞汽车设计出品</text>
</svg>
